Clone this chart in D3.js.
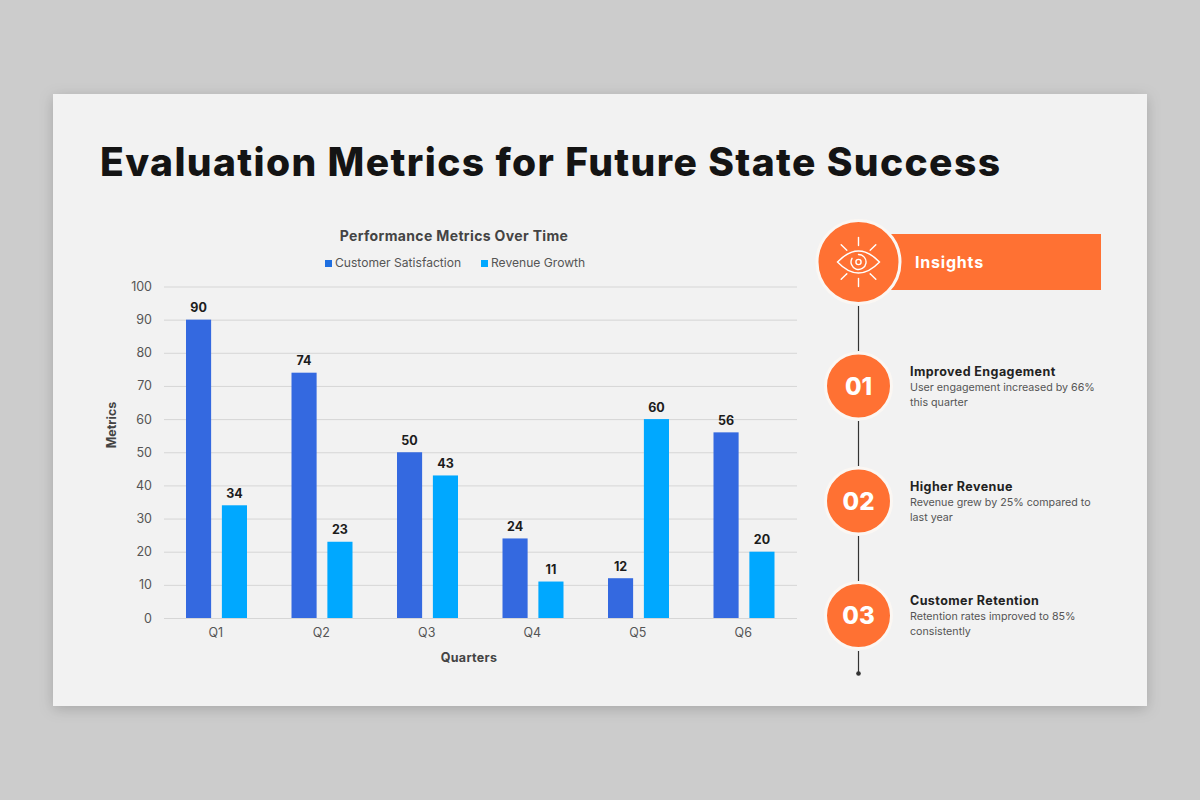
<!DOCTYPE html>
<html>
<head>
<meta charset="utf-8">
<script src="https://cdn.jsdelivr.net/npm/d3@7"></script>
<style>
    html, body { margin: 0; padding: 0; background: #cccccc; }
    svg { display: block; }
    text { font-family: Inter, "Noto Sans", sans-serif; }
</style>
</head>
<body>
<div id="chart"></div>
<script>
// data
const quarters = ['Q1', 'Q2', 'Q3', 'Q4', 'Q5', 'Q6']
const seriesNames = ['Customer Satisfaction', 'Revenue Growth']
const customerSatisfaction = [90, 74, 50, 24, 12, 56]
const revenueGrowth = [34, 23, 43, 11, 60, 20]
const yTicks = [0, 10, 20, 30, 40, 50, 60, 70, 80, 90, 100]
const insightNumbers = ['01', '02', '03']
const insightTitles = ['Improved Engagement', 'Higher Revenue', 'Customer Retention']
const insightLines = [
    ['User engagement increased by 66%', 'this quarter'],
    ['Revenue grew by 25% compared to', 'last year'],
    ['Retention rates improved to 85%', 'consistently']
]

const seriesValues = [customerSatisfaction, revenueGrowth]
const barColors = ['#3469e0', '#00a8ff']
const legendColors = ['#1f6fe0', '#00a8ff']
const orange = '#ff7133'

const svg = d3.select('#chart').append('svg').attr('width', 1200).attr('height', 800)

// card with soft shadow
const filter = svg.append('defs').append('filter').attr('id', 'cardShadow')
    .attr('x', '-5%').attr('y', '-5%').attr('width', '110%').attr('height', '110%')
filter.append('feDropShadow').attr('dx', 0).attr('dy', 3).attr('stdDeviation', 7)
    .attr('flood-color', '#000').attr('flood-opacity', 0.18)

svg.append('rect').attr('x', 53).attr('y', 94).attr('width', 1094).attr('height', 612)
    .attr('fill', '#f2f2f2').attr('filter', 'url(#cardShadow)')

svg.append('text').attr('x', 100).attr('y', 176)
    .attr('font-size', 39).attr('font-weight', 800).attr('fill', '#141414')
    .attr('letter-spacing', 1.38)
    .text('Evaluation Metrics for Future State Success')

// chart
const xScale = d3.scaleBand().domain(quarters).range([164, 797])
const xInner = d3.scaleBand().domain(seriesNames).range([22, 83]).paddingInner(0.3)
const yScale = d3.scaleLinear().domain([0, 100]).range([618, 286.5])

const yAxisDraw = svg.append('g').attr('transform', 'translate(164,0)')
    .call(d3.axisLeft(yScale).tickValues(yTicks).tickSize(-633).tickPadding(12))
yAxisDraw.select('.domain').remove()
yAxisDraw.selectAll('.tick line').attr('stroke', '#d6d6d6').attr('stroke-width', 1)
yAxisDraw.selectAll('.tick text').attr('font-size', 12.5).attr('fill', '#555')
    .style('font-family', 'Inter, sans-serif')

const xAxisDraw = svg.append('g').attr('transform', 'translate(-1,618)')
    .call(d3.axisBottom(xScale).tickSize(0).tickPadding(10))
xAxisDraw.select('.domain').remove()
xAxisDraw.selectAll('.tick text').attr('font-size', 12.5).attr('fill', '#555')
    .style('font-family', 'Inter, sans-serif')

seriesNames.forEach((name, s) => {
    const rows = quarters.map((q, i) => ({ q, value: seriesValues[s][i] }))
    const g = svg.append('g')
    g.selectAll('rect').data(rows).enter().append('rect')
        .attr('x', d => xScale(d.q) + xInner(name))
        .attr('y', d => yScale(d.value))
        .attr('width', xInner.bandwidth())
        .attr('height', d => yScale(0) - yScale(d.value))
        .attr('fill', barColors[s])
    g.selectAll('text').data(rows).enter().append('text')
        .attr('x', d => xScale(d.q) + xInner(name) + xInner.bandwidth() / 2)
        .attr('y', d => yScale(d.value) - 7.5)
        .attr('text-anchor', 'middle')
        .attr('font-size', 12.5).attr('font-weight', 700).attr('fill', '#1c1c1c')
        .text(d => d.value)
})

svg.append('text').attr('x', 454).attr('y', 241).attr('text-anchor', 'middle')
    .attr('font-size', 14).attr('font-weight', 700).attr('fill', '#444')
    .attr('letter-spacing', 0.35)
    .text('Performance Metrics Over Time')

// legend
const legendX = [325, 481]
seriesNames.forEach((name, s) => {
    svg.append('rect').attr('x', legendX[s]).attr('y', 260).attr('width', 7).attr('height', 7)
        .attr('fill', legendColors[s])
    svg.append('text').attr('x', legendX[s] + 10).attr('y', 267)
        .attr('font-size', 12.1).attr('fill', '#555').text(name)
})

svg.append('text').attr('x', 469).attr('y', 662).attr('text-anchor', 'middle')
    .attr('font-size', 12.5).attr('font-weight', 700).attr('fill', '#444')
    .attr('letter-spacing', 0.3).text('Quarters')
svg.append('text').attr('transform', 'translate(116,425) rotate(-90)').attr('text-anchor', 'middle')
    .attr('font-size', 12.5).attr('font-weight', 700).attr('fill', '#444').text('Metrics')

// timeline
const lineSegments = [[306, 351], [421, 466], [536, 581], [651, 673]]
svg.selectAll('.timeline').data(lineSegments).enter().append('line')
    .attr('class', 'timeline')
    .attr('x1', 858.5).attr('x2', 858.5)
    .attr('y1', d => d[0]).attr('y2', d => d[1])
    .attr('stroke', '#333').attr('stroke-width', 1.2)
svg.append('circle').attr('cx', 858.5).attr('cy', 673.5).attr('r', 2.3).attr('fill', '#333')

// insights header
svg.append('rect').attr('x', 890).attr('y', 234).attr('width', 211).attr('height', 56).attr('fill', orange)
svg.append('circle').attr('cx', 858.5).attr('cy', 262).attr('r', 41.5)
    .attr('fill', orange).attr('stroke', '#fbf7f3').attr('stroke-width', 3)
svg.append('text').attr('x', 915).attr('y', 268)
    .attr('font-size', 16).attr('font-weight', 700).attr('fill', '#fff')
    .attr('letter-spacing', 0.8).text('Insights')

// eye icon
const eye = svg.append('g').attr('transform', 'translate(858.5,262)')
    .attr('fill', 'none').attr('stroke', '#fff').attr('stroke-width', 1.4).attr('stroke-linecap', 'round')
eye.append('path').attr('d', 'M-21,0 Q0,-22 21,0 Q0,22 -21,0 Z')
eye.append('circle').attr('r', 2.6)
eye.append('path').attr('d', 'M0,-7.5 A7.5,7.5 0 1,1 -6.5,-3.7')
eye.selectAll('.ray').data(d3.range(8).filter(i => i !== 2 && i !== 6)).enter().append('line')
    .attr('class', 'ray')
    .attr('transform', i => `rotate(${i * 45})`)
    .attr('y1', -16.5).attr('y2', -24.5)

// numbered items
const itemY = [386, 501, 615.5]
insightNumbers.forEach((num, i) => {
    const cy = itemY[i]
    svg.append('circle').attr('cx', 858.5).attr('cy', cy).attr('r', 33)
        .attr('fill', orange).attr('stroke', '#fbf7f3').attr('stroke-width', 3)
    svg.append('text').attr('x', 858.5).attr('y', cy + 8.5).attr('text-anchor', 'middle')
        .attr('font-size', 24).attr('font-weight', 800).attr('fill', '#fff').text(num)
    svg.append('text').attr('x', 910).attr('y', cy - 10.5)
        .attr('font-size', 12.5).attr('font-weight', 700).attr('fill', '#222')
        .attr('letter-spacing', 0.42).text(insightTitles[i])
    insightLines[i].forEach((line, j) => {
        svg.append('text').attr('x', 910).attr('y', cy + 4.5 + j * 15)
            .attr('font-size', 10.7).attr('fill', '#555').text(line)
    })
})
</script>
</body>
</html>
